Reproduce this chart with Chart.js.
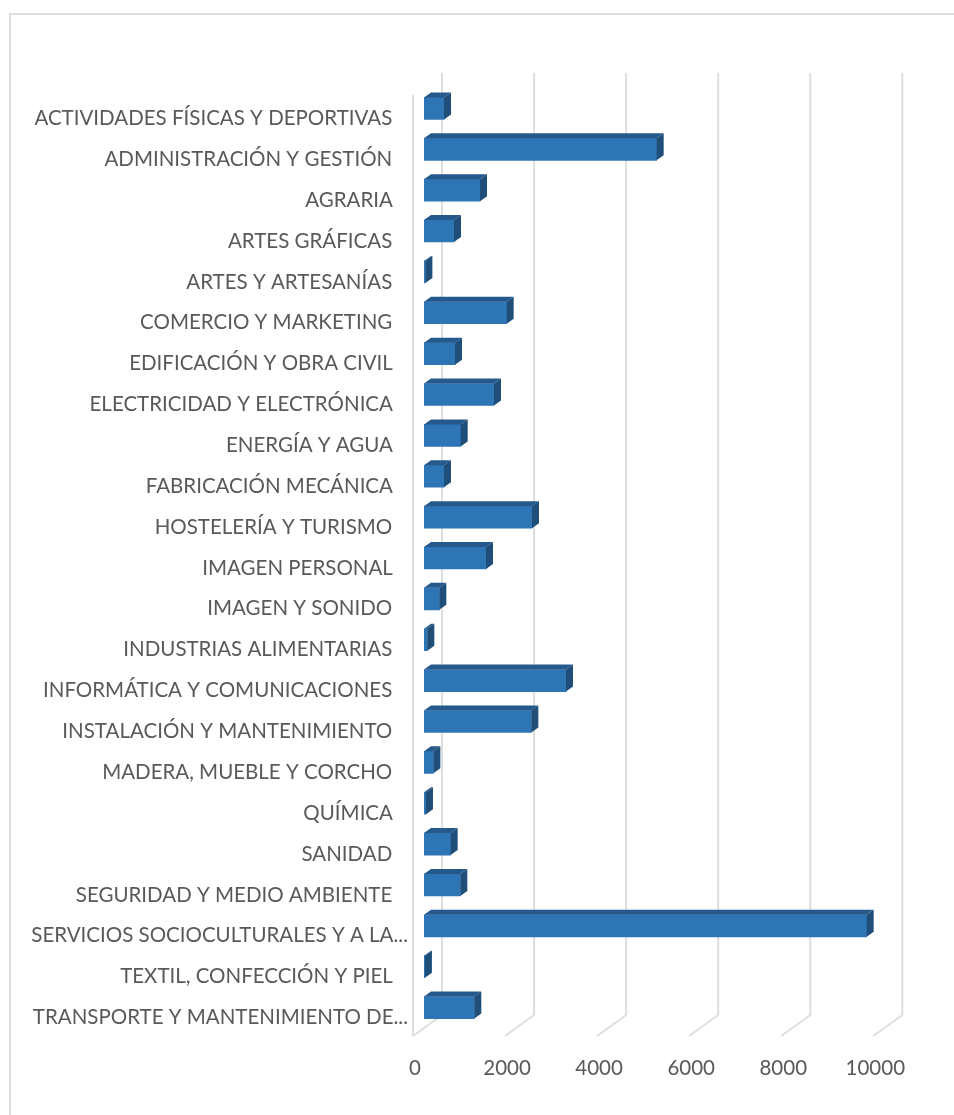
<!DOCTYPE html>
<html>
<head>
<meta charset="utf-8">
<title>Chart</title>
<script src="https://cdn.jsdelivr.net/npm/chart.js@4/dist/chart.umd.min.js"></script>
<style>
  html, body { margin: 0; background: #fff; }
  #wrap { position: relative; width: 954px; height: 1115px; overflow: hidden; }
  #frame { position: absolute; left: 9px; top: 13px; width: 960px; height: 1120px; border: 2px solid #dedede; }
  canvas { position: absolute; left: 0; top: 0; }
</style>
</head>
<body>
<div id="wrap">
  <div id="frame"></div>
  <canvas id="chart" width="954" height="1115"></canvas>
</div>
<script>
const categories = [
  'ACTIVIDADES FÍSICAS Y DEPORTIVAS', 'ADMINISTRACIÓN Y GESTIÓN', 'AGRARIA', 'ARTES GRÁFICAS',
  'ARTES Y ARTESANÍAS', 'COMERCIO Y MARKETING', 'EDIFICACIÓN Y OBRA CIVIL', 'ELECTRICIDAD Y ELECTRÓNICA',
  'ENERGÍA Y AGUA', 'FABRICACIÓN MECÁNICA', 'HOSTELERÍA Y TURISMO', 'IMAGEN PERSONAL',
  'IMAGEN Y SONIDO', 'INDUSTRIAS ALIMENTARIAS', 'INFORMÁTICA Y COMUNICACIONES', 'INSTALACIÓN Y MANTENIMIENTO',
  'MADERA, MUEBLE Y CORCHO', 'QUÍMICA', 'SANIDAD', 'SEGURIDAD Y MEDIO AMBIENTE',
  'SERVICIOS SOCIOCULTURALES Y A LA...', 'TEXTIL, CONFECCIÓN Y PIEL', 'TRANSPORTE Y MANTENIMIENTO DE...'
];
const values = [
  435, 5055, 1217, 652,
  30, 1796, 673, 1521,
  797, 434, 2346, 1347,
  333, 72, 3085, 2332,
  203, 43, 579, 789,
  9617, 20, 1093
];

const textColor = '#595959';
const gridColor = '#dedede';
const fontFamily = 'Lato, Carlito, sans-serif';

// the 3d look: floor and back wall lines, then the top and side of each bar
const depthPlugin = {
  id: 'depth',
  beforeDatasetsDraw(chart) {
    const { ctx } = chart;
    const x = chart.scales.x;
    ctx.save();
    ctx.strokeStyle = gridColor;
    ctx.lineWidth = 2;
    x.ticks.forEach(t => {
      const px = x.getPixelForValue(t.value);
      ctx.beginPath();
      ctx.moveTo(px + 18, 73);
      ctx.lineTo(px + 18, 1015);
      ctx.lineTo(px - 11, 1036);
      ctx.stroke();
    });
    const zero = x.getPixelForValue(0) - 11;
    ctx.beginPath();
    ctx.moveTo(zero, 95);
    ctx.lineTo(zero, 1036);
    ctx.stroke();
    ctx.restore();
  },
  afterDatasetsDraw(chart) {
    const { ctx } = chart;
    const dx = 7, dy = 5;
    ctx.save();
    chart.getDatasetMeta(0).data.forEach(bar => {
      const { x, y, base, height } = bar.getProps(['x', 'y', 'base', 'height'], true);
      const top = y - height / 2;
      const bottom = y + height / 2;
      ctx.fillStyle = '#25598b';
      ctx.beginPath();
      ctx.moveTo(base, top);
      ctx.lineTo(base + dx, top - dy);
      ctx.lineTo(x + dx, top - dy);
      ctx.lineTo(x, top);
      ctx.closePath();
      ctx.fill();
      ctx.fillStyle = '#1f4e79';
      ctx.beginPath();
      ctx.moveTo(x, top);
      ctx.lineTo(x + dx, top - dy);
      ctx.lineTo(x + dx, bottom - dy);
      ctx.lineTo(x, bottom);
      ctx.closePath();
      ctx.fill();
    });
    ctx.restore();
  }
};

new Chart(document.getElementById('chart'), {
  type: 'bar',
  data: {
    labels: categories,
    datasets: [{
      data: values,
      backgroundColor: '#2e75b6',
      borderWidth: 0,
      barThickness: 22
    }]
  },
  options: {
    indexAxis: 'y',
    responsive: false,
    animation: false,
    layout: { padding: { top: 88, right: 69.7, left: 0, bottom: 0 } },
    plugins: { legend: { display: false }, tooltip: { enabled: false } },
    scales: {
      x: {
        min: 0,
        max: 10000,
        grid: { display: false, drawTicks: false },
        border: { display: false },
        afterFit: s => { s.height = 87; },
        ticks: {
          stepSize: 2000,
          maxRotation: 0,
          autoSkip: false,
          color: textColor,
          padding: 28,
          labelOffset: -9,
          font: { family: fontFamily, size: 20.5 },
          callback: value => String(value)
        }
      },
      y: {
        grid: { display: false, drawTicks: false },
        border: { display: false },
        afterFit: s => { s.width = 424; },
        ticks: {
          autoSkip: false,
          color: textColor,
          padding: 16,
          labelOffset: 10,
          font: { family: fontFamily, size: 20.5 },
          // only the cut labels reach the full width, the others stop short of it
          callback(value) {
            const label = this.getLabelForValue(value);
            return label.endsWith('...') ? label : label + '\u00a0\u00a0\u00a0';
          }
        }
      }
    }
  },
  plugins: [depthPlugin]
});
</script>
</body>
</html>
